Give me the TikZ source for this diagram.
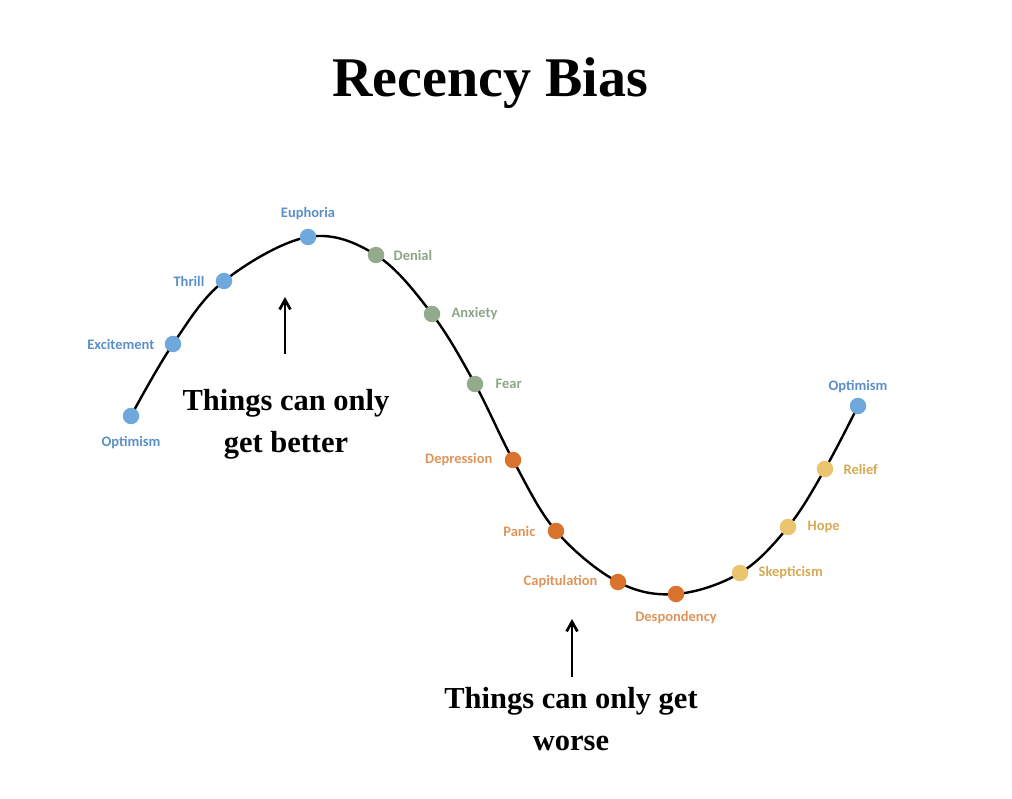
\documentclass[tikz,border=0pt]{standalone}
\usepackage{fontspec}
\setmainfont{Liberation Serif}
\newfontfamily\labelfont{Carlito}
\usepackage{xcolor}
\usetikzlibrary{arrows.meta,positioning,backgrounds}

\definecolor{upblue}{HTML}{6FA8DC}
\definecolor{upbluetxt}{HTML}{5B8FC7}
\definecolor{sage}{HTML}{93AA8C}
\definecolor{sagetxt}{HTML}{8DA487}
\definecolor{rust}{HTML}{D8722C}
\definecolor{rusttxt}{HTML}{E0945A}
\definecolor{sand}{HTML}{EAC46E}
\definecolor{sandtxt}{HTML}{D6AA52}

\begin{document}
\begin{tikzpicture}[
    x=1pt, y=-1pt,
    dot/.style={circle, inner sep=0pt, minimum size=16.5pt},
    mood/.style={font=\labelfont\bfseries\fontsize{14.5}{17}\selectfont, inner sep=0pt},
    note/.style={font=\bfseries\fontsize{30.5}{42}\selectfont, align=center, inner sep=0pt},
    arrow/.style={-{Straight Barb[length=3.4mm, width=3.8mm]}, line width=2.7pt}
  ]
    \useasboundingbox (0,0) rectangle (1012,799);
    \node[font=\bfseries\fontsize{56}{60}\selectfont, anchor=base] (title) at (490,97) {Recency Bias};

    % dots along the cycle
    \node[dot, fill=upblue] (opt1) at (131,416) {};
    \node[dot, fill=upblue] (exc) at (173,344) {};
    \node[dot, fill=upblue] (thr) at (224,281) {};
    \node[dot, fill=upblue] (eup) at (308,237) {};
    \node[dot, fill=sage] (den) at (376,255) {};
    \node[dot, fill=sage] (anx) at (432,314) {};
    \node[dot, fill=sage] (fear) at (475,384) {};
    \node[dot, fill=rust] (dep) at (513,460) {};
    \node[dot, fill=rust] (pan) at (556,531) {};
    \node[dot, fill=rust] (cap) at (618,582) {};
    \node[dot, fill=rust] (desp) at (676,594) {};
    \node[dot, fill=sand] (skep) at (740,573) {};
    \node[dot, fill=sand] (hope) at (788,527) {};
    \node[dot, fill=sand] (rel) at (825,469) {};
    \node[dot, fill=upblue] (opt2) at (858,406) {};

    \begin{pgfonlayer}{background}
      \draw[line width=2.4pt, line cap=round] plot[smooth, tension=0.6] coordinates {(opt1) (exc) (thr) (eup) (den) (anx) (fear) (dep) (pan) (cap) (desp) (skep) (hope) (rel) (opt2)};
    \end{pgfonlayer}

    % labels
    \node[mood, text=upbluetxt, below=12pt of opt1] {Optimism};
    \node[mood, text=upbluetxt, left=10pt of exc] {Excitement};
    \node[mood, text=upbluetxt, left=11pt of thr] {Thrill};
    \node[mood, text=upbluetxt, above=9pt of eup] {Euphoria};
    \node[mood, text=sagetxt, right=9pt of den] {Denial};
    \node[mood, text=sagetxt, right=11pt of anx] {Anxiety};
    \node[mood, text=sagetxt, right=12pt of fear] {Fear};
    \node[mood, text=rusttxt, left=12pt of dep] {Depression};
    \node[mood, text=rusttxt, left=12pt of pan] {Panic};
    \node[mood, text=rusttxt, left=12pt of cap] {Capitulation};
    \node[mood, text=rusttxt, below=9pt of desp] {Despondency};
    \node[mood, text=sandtxt, right=10pt of skep] {Skepticism};
    \node[mood, text=sandtxt, right=11pt of hope] {Hope};
    \node[mood, text=sandtxt, right=10pt of rel] {Relief};
    \node[mood, text=upbluetxt, above=5pt of opt2] {Optimism};

    % notes with arrows
    \node[note] (better) at (286,424) {Things can only\\get better};
    \node[note] (worse) at (571,719) {Things can only get\\worse};
    \coordinate (betterbase) at (285,354);
    \coordinate (bettertip) at (285,297);
    \coordinate (worsebase) at (572,677);
    \coordinate (worsetip) at (572,619);
    \draw[arrow] (betterbase) -- (bettertip);
    \draw[arrow] (worsebase) -- (worsetip);
  \end{tikzpicture}
\end{document}
